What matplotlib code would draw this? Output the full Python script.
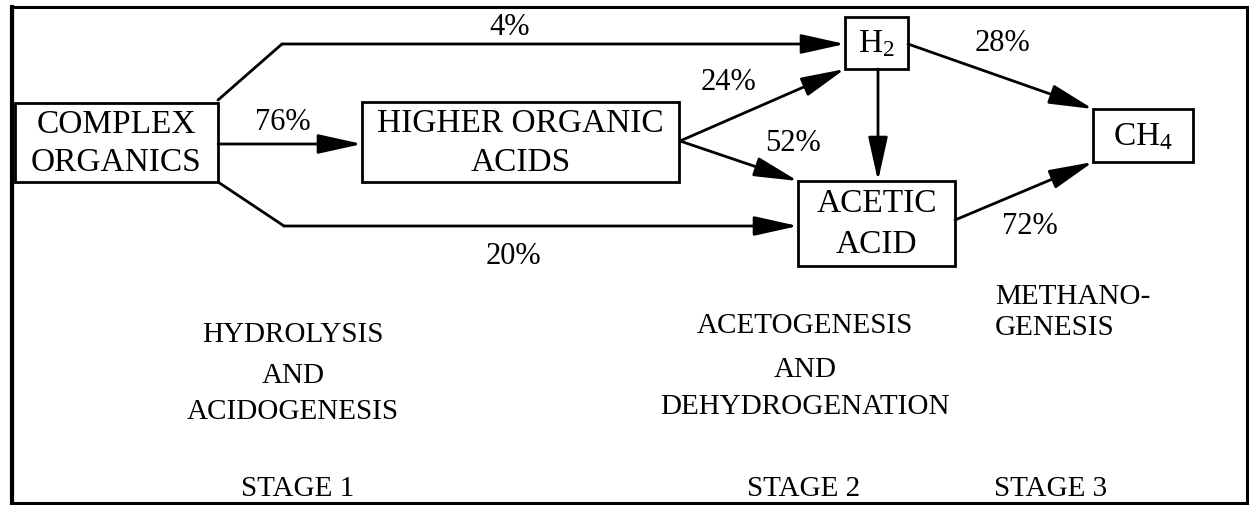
import matplotlib
matplotlib.use("Agg")
from matplotlib import pyplot as plt
from matplotlib.patches import Rectangle

plt.rcParams['font.family'] = ['Liberation Serif', 'DejaVu Serif']
plt.rcParams['mathtext.fontset'] = 'custom'
plt.rcParams['mathtext.rm'] = 'Liberation Serif'
plt.rcParams['mathtext.it'] = 'Liberation Serif:italic'

# data: process nodes, flows between them and their shares (%)
nodes = ['complex', 'higher', 'h2', 'acetic', 'ch4']
node_labels = [['COMPLEX', 'ORGANICS'], ['HIGHER ORGANIC', 'ACIDS'], [r'H$_\mathrm{2}$'],
               ['ACETIC', 'ACID'], [r'CH$_\mathrm{4}$']]
flow_from = ['complex', 'complex', 'complex', 'higher', 'higher', 'h2', 'h2', 'acetic']
flow_to = ['h2', 'higher', 'acetic', 'h2', 'acetic', 'acetic', 'ch4', 'ch4']
flow_pct = [4, 76, 20, 24, 52, None, 28, 72]
stage_names = [['HYDROLYSIS', 'AND', 'ACIDOGENESIS'],
               ['ACETOGENESIS', 'AND', 'DEHYDROGENATION'],
               ['METHANO-', 'GENESIS']]
stage_ids = ['STAGE 1', 'STAGE 2', 'STAGE 3']

# layout (pixel coords, y down)
boxes = {'complex': (15, 104, 218, 183), 'higher': (362, 103, 679, 183),
         'h2': (845, 18, 908, 70), 'acetic': (798, 182, 955, 267),
         'ch4': (1093, 110, 1193, 163)}
label_y = {'complex': [125, 163], 'higher': [124, 163], 'h2': [44],
           'acetic': [204, 245], 'ch4': [137]}
paths = [[(218, 101), (282, 45), (845, 45)],
         [(218, 145), (362, 145)],
         [(218, 183), (284, 227), (798, 227)],
         [(680, 142), (845, 70)],
         [(680, 142), (798, 182)],
         [(878, 70), (878, 182)],
         [(908, 45), (1093, 110)],
         [(955, 221), (1093, 163)]]
pct_pos = [(510, 27), (283, 122), (513, 257), (728, 82), (793, 143), None, (1003, 43), (1030, 227)]

fig = plt.figure(figsize=(12.52, 5.06), dpi=100)
ax = fig.add_axes([0, 0, 1, 1])
ax.set_xlim(0, 1252)
ax.set_ylim(506, 0)
ax.axis('off')

# outer frame
ax.add_patch(Rectangle((12, 8), 1235, 496, fill=False, lw=2.2, ec='k'))
ax.plot([12, 12], [8, 504], color='k', lw=3)

for n, lab in zip(nodes, node_labels):
    x0, y0, x1, y1 = boxes[n]
    ax.add_patch(Rectangle((x0, y0), x1 - x0, y1 - y0, fill=False, lw=2, ec='k', zorder=3))
    for line, y in zip(lab, label_y[n]):
        ax.text((x0 + x1) / 2, y, line, ha='center', va='center', fontsize=24, zorder=4)

for i in range(len(flow_from)):
    pts = paths[i]
    xs = [p[0] for p in pts]
    ys = [p[1] for p in pts]
    ax.plot(xs[:-1], ys[:-1], color='k', lw=2, solid_capstyle='round')
    ax.annotate('', xy=pts[-1], xytext=pts[-2],
                arrowprops=dict(arrowstyle='-|>,head_length=1.35,head_width=0.3',
                                lw=2, color='k', shrinkA=0, shrinkB=0, mutation_scale=20))
    if flow_pct[i] is not None:
        ax.text(pct_pos[i][0], pct_pos[i][1], '%d%%' % flow_pct[i], ha='center', va='center', fontsize=22)

stage_x = [293, 805, 995]
stage_ys = [[335, 376, 412], [326, 370, 407], [297, 328]]
stage_ha = ['center', 'center', 'left']
for x, ys, lines, ha in zip(stage_x, stage_ys, stage_names, stage_ha):
    for y, line in zip(ys, lines):
        ax.text(x, y, line, ha=ha, va='center', fontsize=21)
for x, s, ha in zip([298, 804, 994], stage_ids, stage_ha):
    ax.text(x, 489, s, ha=ha, va='center', fontsize=21)

fig.savefig('out.png', dpi=100)
